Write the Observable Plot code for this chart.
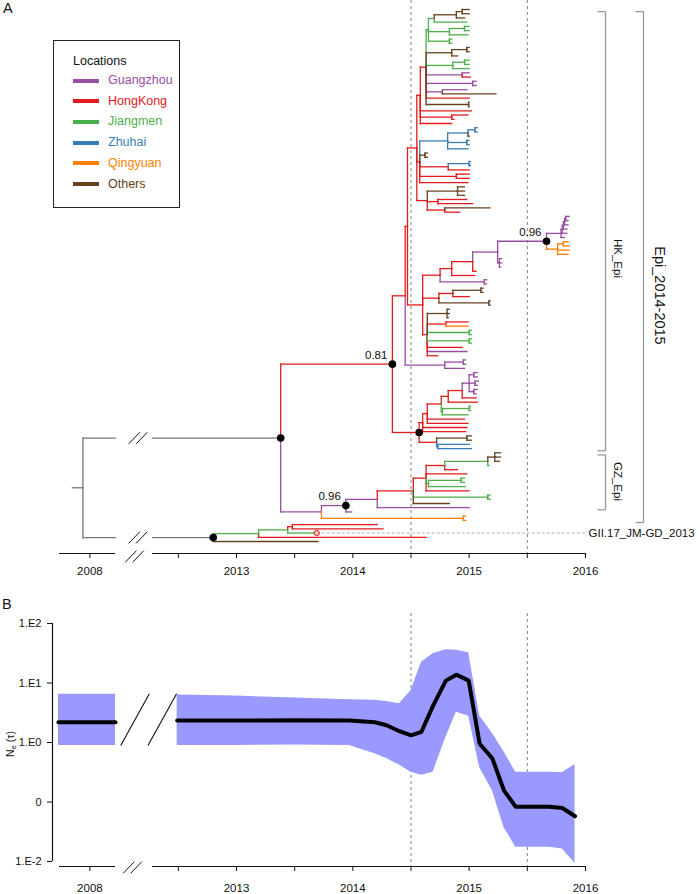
<!DOCTYPE html>
<html>
<head>
<meta charset="utf-8">
<script src="https://cdn.jsdelivr.net/npm/d3@7"></script>
<script src="https://cdn.jsdelivr.net/npm/@observablehq/plot@0.6"></script>
<style>
  html, body { margin: 0; padding: 0; background: #fff; }
  #wrap { position: relative; width: 700px; height: 894px; font-family: "Liberation Sans", Arial, Helvetica, sans-serif; color: #111; overflow: hidden; }
  #wrap svg { display: block; }
  .abs { position: absolute; white-space: nowrap; }
</style>
</head>
<body>
<div id="wrap"></div>
<script>
// ================= DATA =================
const locations      = ["Guangzhou", "HongKong", "Jiangmen", "Zhuhai", "Qingyuan", "Others"];
const locationCodes  = ["G", "H", "J", "Z", "Q", "O"];
const locationColors = ["#984EA3", "#E41A1C", "#4DAF4A", "#377EB8", "#FF7F00", "#654321"];
const rootColor = "#777777";

// x axis ticks (years); "" = minor tick without label
const tickYears  = [2008, 2012.5, 2013, 2013.5, 2014, 2014.5, 2015, 2015.5, 2016];
const tickLabels = ["2008", "", "2013", "", "2014", "", "2015", "", "2016"];
const dashedYears = [2014.5, 2015.5];

// time-scaled tree: [location, time (decimal year), children?, tag?, clade?]
const rootStubStart = 2007.85;
const tree =
["X", 2007.94, [
  ["X", 2013.38, [
    ["H", 2014.34, [
      ["H", 2014.45, [
        ["H", 2014.47, [
          ["H", 2014.55, [
            ["H", 2014.58, [
              ["H", 2014.63, [
                ["J", 2014.65, [
                  ["J", 2014.70, [
                    ["O", 2014.89, [
                      ["O", 2014.94, [["O", 2015.00], ["O", 2015.00]]],
                      ["O", 2014.96]]],
                    ["J", 2014.98]]],
                  ["J", 2014.83, [
                    ["J", 2014.96, [["J", 2015.00], ["J", 2015.00]]],
                    ["J", 2014.99]]],
                  ["J", 2014.83, [["J", 2014.85], ["J", 2014.85]]]]],
                ["O", 2014.85, [
                  ["O", 2014.98, [["O", 2015.00], ["O", 2015.00]]],
                  ["O", 2014.90]]],
                ["J", 2014.86, [
                  ["J", 2014.96, [["J", 2015.00], ["J", 2015.00]]],
                  ["J", 2015.00]]],
                ["G", 2014.94, [["G", 2015.00], ["H", 2015.01]]],
                ["G", 2015.03, [["G", 2015.06], ["G", 2015.06]]],
                ["G", 2014.77, [["G", 2014.98], ["O", 2015.23]]],
                ["H", 2015.00],
                ["O", 2014.995, [["O", 2015.00], ["O", 2015.00]]]]],
              ["H", 2015.02],
              ["H", 2014.85, [["H", 2014.99], ["H", 2014.87]]],
              ["H", 2014.85]]],
            ["H", 2014.575, [
              ["Z", 2014.815, [
                ["Z", 2014.99, [
                  ["Z", 2015.05, [["Z", 2015.07], ["Z", 2015.07]]],
                  ["O", 2015.00]]],
                ["Z", 2014.98, [["Z", 2015.00], ["Z", 2015.00]]],
                ["Z", 2014.99]]],
              ["O", 2014.62, [["O", 2014.64], ["O", 2014.64]]],
              ["H", 2014.82, [
                ["Z", 2015.00, [["Z", 2015.01], ["Z", 2015.01]]],
                ["H", 2015.00]]],
              ["H", 2014.89, [["H", 2015.00], ["H", 2015.00]]],
              ["H", 2014.99]]],
            ["H", 2014.64, [
              ["O", 2014.90, [["O", 2014.96], ["O", 2014.96], ["O", 2014.96]]],
              ["H", 2014.73, [["H", 2014.98], ["H", 2015.03]]],
              ["H", 2014.79, [["O", 2015.18], ["H", 2014.92]]]]]]],
          ["H", 2014.60, [
            ["H", 2014.75, [
              ["H", 2014.85, [
                ["H", 2015.03, [
                  ["G", 2015.245, [
                    ["G", 2015.665, [
                      ["G", 2015.79, [
                        ["G", 2015.80, [
                          ["G", 2015.81, [
                            ["G", 2015.82, [
                              ["G", 2015.83, [["G", 2015.86], ["G", 2015.85]]],
                              ["G", 2015.85]]],
                            ["G", 2015.84]]],
                          ["G", 2015.84]]],
                        ["G", 2015.82]]],
                      ["Q", 2015.76, [
                        ["Q", 2015.81, [["Q", 2015.85], ["Q", 2015.86]]],
                        ["Q", 2015.86],
                        ["Q", 2015.85]]]], "0.96"],
                    ["G", 2015.26, [["G", 2015.28], ["G", 2015.28], ["G", 2015.27]]]]],
                  ["H", 2015.06]]],
                ["H", 2015.047]]],
              ["G", 2015.13, [["G", 2015.15], ["G", 2015.15]]]]],
            ["H", 2014.74, [
              ["H", 2014.86, [
                ["O", 2015.10, [["O", 2015.12], ["O", 2015.12]]],
                ["H", 2015.00]]],
              ["O", 2015.17, [["O", 2015.18], ["O", 2015.18]]]]],
            ["H", 2014.64, [
              ["O", 2014.81, [["O", 2014.83], ["O", 2014.83], ["O", 2014.82]]],
              ["H", 2014.80, [["H", 2014.99], ["Q", 2014.99]]],
              ["J", 2015.00, [["J", 2015.02], ["J", 2015.02]]],
              ["J", 2015.00, [["J", 2015.02], ["J", 2015.02]]],
              ["H", 2014.94],
              ["G", 2014.98],
              ["H", 2014.73]]]]]]],
        ["G", 2014.79, [["G", 2014.95, [["G", 2014.97], ["G", 2014.97]]], ["G", 2014.96]]]]],
      ["H", 2014.57, [
        ["H", 2014.60, [
          ["H", 2014.64, [
            ["H", 2014.76, [
              ["H", 2014.82, [
                ["H", 2014.94, [
                  ["G", 2015.00, [
                    ["G", 2015.04, [["G", 2015.07], ["G", 2015.07]]],
                    ["G", 2015.05, [["G", 2015.08], ["G", 2015.07]]],
                    ["G", 2015.04, [["G", 2015.07], ["G", 2015.06]]]]],
                  ["H", 2015.06]]],
                ["H", 2015.07]]],
              ["J", 2014.77, [
                ["J", 2015.00, [["J", 2015.01], ["J", 2015.01]]],
                ["J", 2014.99]]]]],
            ["H", 2014.96],
            ["H", 2014.99]]],
          ["H", 2014.98],
          ["H", 2014.97]]],
        ["H", 2014.72, [
          ["O", 2014.98, [["O", 2015.02], ["O", 2015.02]]],
          ["Z", 2014.73, [["Z", 2015.00], ["Z", 2015.02]]]]]], "dot"]], "0.81", "HK_Epi"],
    ["G", 2013.73, [
      ["G", 2013.94, [
        ["G", 2014.21, [
          ["H", 2014.52, [
            ["H", 2014.63, [
              ["H", 2014.79, [
                ["J", 2015.16, [
                  ["O", 2015.22, [["O", 2015.27], ["O", 2015.27], ["O", 2015.26]]],
                  ["J", 2015.17]]],
                ["H", 2014.90]]],
              ["H", 2014.98],
              ["J", 2014.65, [
                ["J", 2014.93, [["J", 2014.96], ["J", 2014.96]]],
                ["J", 2014.97]]],
              ["H", 2015.00]]],
            ["J", 2015.16, [["J", 2015.18], ["J", 2015.18]]],
            ["O", 2014.83]]],
          ["G", 2015.00]], null, "GZ_Epi"],
        ["G", 2013.99]], "0.96"],
      ["Q", 2014.95, [["Q", 2014.97], ["Q", 2014.97]]]]]], "dot", "Epi_2014-2015"],
  ["X", 2012.80, [
    ["J", 2013.19, [
      ["J", 2013.44, [
        ["H", 2013.48, [["H", 2014.21], ["H", 2014.26]]],
        ["J", 2013.69, null, "GII.17_JM-GD_2013"]]],
      ["H", 2014.63]]],
    ["O", 2013.70]], "dot"]]];

// Skyline (panel B): log10 of Ne(tau); early segment around 2008, main segment 2012.5-2016
const skyEarlyYears  = [2007.73, 2008.22];
const skyEarlyMedian = [0.34, 0.34];
const skyEarlyLower  = [-0.05, -0.05];
const skyEarlyUpper  = [0.81, 0.81];
const skyYears  = [2012.49, 2013.0, 2013.5, 2013.97, 2014.19, 2014.29, 2014.40, 2014.50, 2014.59, 2014.69, 2014.80, 2014.89, 2014.996, 2015.09, 2015.20, 2015.30, 2015.40, 2015.69, 2015.80, 2015.91];
const skyMedian = [0.37, 0.37, 0.375, 0.37, 0.34, 0.29, 0.19, 0.12, 0.18, 0.62, 1.04, 1.14, 1.04, -0.02, -0.27, -0.81, -1.08, -1.08, -1.10, -1.24];
const skyUpper  = [0.80, 0.78, 0.75, 0.72, 0.71, 0.69, 0.65, 0.87, 1.35, 1.49, 1.56, 1.55, 1.51, 0.45, 0.15, -0.16, -0.50, -0.50, -0.51, -0.37];
const skyLower  = [-0.05, -0.05, -0.04, -0.05, -0.19, -0.27, -0.38, -0.50, -0.55, -0.50, 0.09, 0.51, 0.44, -0.42, -0.81, -1.43, -1.76, -1.76, -1.79, -2.03];
const yTickValues = [2, 1, 0, -1, -2];
const yTickLabels = ["1.E2", "1.E1", "1.E0", "0", "1.E-2"];

// ================= LAYOUT =================
const FONT = '"Liberation Sans", Arial, Helvetica, sans-serif';
const xDomain = [2013, 2016], xRangePx = [236, 585];
const pxPerYear = (xRangePx[1] - xRangePx[0]) / (xDomain[1] - xDomain[0]);
const xpx = px => xDomain[0] + (px - xRangePx[0]) / pxPerYear;       // pixel -> axis units
const earlyShift = xpx(89.4) - 2008;                                  // broken axis: 2008 placed left of the break
const breakYear = 2010;
const disp = t => t < breakYear ? t + earlyShift : t;
const brkL = xpx(115), brkR = xpx(152), axisStart = xpx(59);
const tickDisp = tickYears.map(disp);
const tickLabelOf = new Map(tickDisp.map((d, i) => [d, tickLabels[i]]));
const colorOf = c => c === "X" ? rootColor : locationColors[locationCodes.indexOf(c)];
const hasAxisMarks = typeof Plot.axisX === "function";

// tree layout: tips in order, internal node at midpoint of first/last child
let tipCount = 0;
const nodes = [];
function layout(arr, parent) {
  const [loc, t, kids, tag, clade] = arr;
  const n = {loc, t, tag, clade, parent};
  if (kids && kids.length) {
    const ch = kids.map(k => layout(k, n));
    n.y = (ch[0].y + ch[ch.length - 1].y) / 2;
    n.span = [ch[0].span[0], ch[ch.length - 1].span[1]];
  } else {
    n.y = tipCount++;
    n.span = [n.y, n.y];
  }
  nodes.push(n);
  return n;
}
const root = layout(tree, null);
const N = tipCount;
const yTop = 9, yBot = 541;
const rowPx = (yBot - yTop) / (N - 1);
const axisRowA = (N - 1) + (553 - yBot) / rowPx;

const segs = [];
const breakRows = [];
for (const n of nodes) {
  if (!n.parent) continue;
  const p = n.parent;
  segs.push({loc: n.loc, x1: disp(p.t), y1: p.y, x2: disp(p.t), y2: n.y});
  if (p.t < breakYear && n.t > breakYear) {
    segs.push({loc: n.loc, x1: disp(p.t), y1: n.y, x2: brkL, y2: n.y});
    segs.push({loc: n.loc, x1: brkR, y1: n.y, x2: disp(n.t), y2: n.y});
    breakRows.push(n.y);
  } else {
    segs.push({loc: n.loc, x1: disp(p.t), y1: n.y, x2: disp(n.t), y2: n.y});
  }
}
segs.push({loc: root.loc, x1: disp(rootStubStart), y1: root.y, x2: disp(root.t), y2: root.y});

const isSupport = s => s != null && !isNaN(+s);
const dotNodes = nodes.filter(n => n.tag === "dot" || isSupport(n.tag));
const supportNodes = nodes.filter(n => isSupport(n.tag));
const namedTips = nodes.filter(n => n.tag && n.tag !== "dot" && !isSupport(n.tag));

// clade brackets
const bracketCol = {"HK_Epi": {px: 605, labelPx: 617, size: 11.5, labelY: 258},
                    "GZ_Epi": {px: 605, labelPx: 617, size: 11.5, labelY: 481},
                    "Epi_2014-2015": {px: 643, labelPx: 659, size: 14.5, labelY: 295}};
const brackets = [], bracketLabels = [];
for (const n of nodes.filter(n => n.clade)) {
  const b = bracketCol[n.clade];
  const xb = xpx(b.px), xt = xpx(b.px - 8);
  const r0 = n.span[0] + 0.5, r1 = n.span[1] + 0.5;
  brackets.push({x1: xb, y1: r0, x2: xb, y2: r1}, {x1: xt, y1: r0, x2: xb, y2: r0}, {x1: xt, y1: r1, x2: xb, y2: r1});
  bracketLabels.push({x: xpx(b.labelPx), y: (b.labelY - yTop) / rowPx, text: n.clade, size: b.size});
}

function slashPair(cxPx, cy, toDy) {
  return [-1, 1].map(k => ({
    x1: xpx(cxPx + k * 3.7 - 5.6), y1: cy + toDy(5.8),
    x2: xpx(cxPx + k * 3.7 + 5.6), y2: cy + toDy(-5.8)
  }));
}
const toRows = px => px / rowPx;
const slashesA = [
  ...breakRows.flatMap(r => slashPair(137.5, r, toRows)),
  ...slashPair(134, axisRowA + toRows(3), toRows)
];
const axisSegs = [[axisStart, brkL], [brkR, xDomain[1]]];

const segsBy = locationCodes.concat(["X"]).map(c => ({c, data: segs.filter(s => s.loc === c)}));

function xAxis(pad) {
  const o = {ticks: tickDisp, tickFormat: d => tickLabelOf.get(d) ?? "", tickSize: 5, tickPadding: pad, label: null};
  return hasAxisMarks ? [Plot.axisX({...o, anchor: "bottom", fontSize: 11.5, fill: "#111"})] : [];
}
function xScale(pad) {
  const o = {domain: xDomain, range: xRangePx};
  return hasAxisMarks ? o : {...o, ticks: tickDisp, tickFormat: d => tickLabelOf.get(d) ?? "", tickSize: 5, tickPadding: pad, label: null};
}

const plotA = Plot.plot({
  width: 700, height: 590,
  marginTop: 0, marginRight: 0, marginBottom: 37, marginLeft: 0,
  style: {fontFamily: FONT, fontSize: "11.5px", background: "white", color: "#111"},
  x: xScale(8),
  y: {domain: [0, N - 1], range: [yTop, yBot], axis: null},
  marks: [
    Plot.ruleX(dashedYears, {x: d => d, stroke: "#777", strokeDasharray: "3,3", strokeWidth: 0.9}),
    // GII.17 reference line
    Plot.link(namedTips, {x1: d => disp(d.t), y1: "y", x2: xpx(584), y2: "y", stroke: "#aaa", strokeDasharray: "3,2", strokeWidth: 0.9}),
    ...segsBy.map(g => Plot.link(g.data, {x1: "x1", y1: "y1", x2: "x2", y2: "y2", stroke: colorOf(g.c), strokeWidth: 1.3, strokeLinecap: "square"})),
    Plot.dot(dotNodes, {x: d => disp(d.t), y: "y", r: 3.8, fill: "#000", stroke: "none"}),
    Plot.text(supportNodes, {x: d => disp(d.t), y: "y", text: "tag", dx: -5, dy: -9, textAnchor: "end", fontSize: 11.5, fill: "#111"}),
    Plot.dot(namedTips, {x: d => disp(d.t), y: "y", r: 2.6, fill: "#f6c6c6", stroke: "#E41A1C", strokeWidth: 1}),
    Plot.text(namedTips, {x: xpx(588), y: "y", text: "tag", textAnchor: "start", fontSize: 11.5, fill: "#111"}),
    Plot.link(brackets, {x1: "x1", y1: "y1", x2: "x2", y2: "y2", stroke: "#999", strokeWidth: 1.3}),
    Plot.text(bracketLabels, {x: "x", y: "y", text: "text", rotate: 90, fontSize: d => d.size, fill: "#111"}),
    Plot.link(slashesA, {x1: "x1", y1: "y1", x2: "x2", y2: "y2", stroke: "#111", strokeWidth: 1}),
    Plot.ruleY(axisSegs, {y: () => axisRowA, x1: d => d[0], x2: d => d[1], stroke: "#111", strokeWidth: 1.2}),
    ...xAxis(8)
  ]
});

// ---------- Panel B ----------
const pxPerV = 59.5;
const hB = 304, mTopB = 33, mBotB = 28;
const yMaxB = 2, yMinB = yMaxB - (hB - mTopB - mBotB) / pxPerV;
const toV = px => -px / pxPerV;
const early = skyEarlyYears.map((t, i) => ({x: disp(t), med: skyEarlyMedian[i], lo: skyEarlyLower[i], hi: skyEarlyUpper[i]}));
const main = skyYears.map((t, i) => ({x: disp(t), med: skyMedian[i], lo: skyLower[i], hi: skyUpper[i]}));
const bigSlashes = [
  {x1: early[1].x + 0.045, y1: early[0].lo, x2: early[1].x + 0.291, y2: early[0].hi + 0.01},
  {x1: main[0].x - 0.251, y1: early[0].lo, x2: main[0].x - 0.005, y2: early[0].hi + 0.01}
];
const slashesB = slashPair(132, yMinB + toV(1), toV);
const yTickLabelOf = new Map(yTickValues.map((d, i) => [d, yTickLabels[i]]));
const yOpts = {ticks: yTickValues, tickFormat: d => yTickLabelOf.get(d) ?? "", tickSize: 5, tickPadding: 6, label: null};

const plotB = Plot.plot({
  width: 700, height: hB,
  marginTop: mTopB, marginRight: 0, marginBottom: mBotB, marginLeft: 52,
  style: {fontFamily: FONT, fontSize: "11.5px", background: "white", color: "#111"},
  x: xScale(12),
  y: hasAxisMarks ? {domain: [yMinB, yMaxB]} : {domain: [yMinB, yMaxB], ...yOpts},
  marks: [
    Plot.ruleX(dashedYears, {x: d => d, y1: yMaxB + 10 / pxPerV, y2: yMinB, stroke: "#777", strokeDasharray: "3,3", strokeWidth: 0.9}),
    Plot.areaY(early, {x: "x", y1: "lo", y2: "hi", fill: "#9999ff"}),
    Plot.areaY(main, {x: "x", y1: "lo", y2: "hi", fill: "#9999ff"}),
    Plot.line(early, {x: "x", y: "med", stroke: "#000", strokeWidth: 4}),
    Plot.line(main, {x: "x", y: "med", stroke: "#000", strokeWidth: 4, strokeLinejoin: "miter"}),
    Plot.link(bigSlashes, {x1: "x1", y1: "y1", x2: "x2", y2: "y2", stroke: "#111", strokeWidth: 1.1}),
    Plot.link(slashesB, {x1: "x1", y1: "y1", x2: "x2", y2: "y2", stroke: "#111", strokeWidth: 1}),
    Plot.ruleX([xpx(52)], {x: d => d, y1: yTickValues[yTickValues.length - 1], y2: yTickValues[0], stroke: "#111", strokeWidth: 1.2}),
    Plot.ruleY(axisSegs, {y: () => yMinB, x1: d => d[0], x2: d => d[1], stroke: "#111", strokeWidth: 1.2}),
    ...xAxis(12),
    ...(hasAxisMarks ? [Plot.axisY({...yOpts, anchor: "left", fontSize: 11, fill: "#111"})] : [])
  ]
});

const wrap = document.getElementById("wrap");
wrap.appendChild(plotA);
wrap.appendChild(plotB);

function addDiv(html, style) {
  const d = document.createElement("div");
  d.className = "abs";
  d.innerHTML = html;
  Object.assign(d.style, style);
  wrap.appendChild(d);
  return d;
}
addDiv("A", {left: "3px", top: "0px", fontSize: "14.5px", lineHeight: "16px"});
addDiv("B", {left: "2px", top: "596px", fontSize: "14.5px", lineHeight: "16px"});
// y-axis title of panel B
addDiv('N<span style="font-size:7.5px;position:relative;top:2px">e</span> (τ)', {left: "11px", top: "744px", fontSize: "10.5px", lineHeight: "12px", transform: "translate(-50%,-50%) rotate(-90deg)"});
// legend box
addDiv("", {left: "53px", top: "40px", width: "127px", height: "168px", boxSizing: "border-box", border: "1.5px solid #222"});
addDiv("Locations", {left: "73px", top: "54px", fontSize: "12.5px", lineHeight: "14px", color: "#111"});
locations.forEach((name, i) => {
  const cy = 80.5 + i * 20.7;
  addDiv("", {left: "73px", top: (cy - 2) + "px", width: "26px", height: "4px", background: locationColors[i]});
  addDiv(name, {left: "108px", top: (cy - 7.5) + "px", fontSize: "12.5px", lineHeight: "14px", color: locationColors[i]});
});
</script>
</body>
</html>
